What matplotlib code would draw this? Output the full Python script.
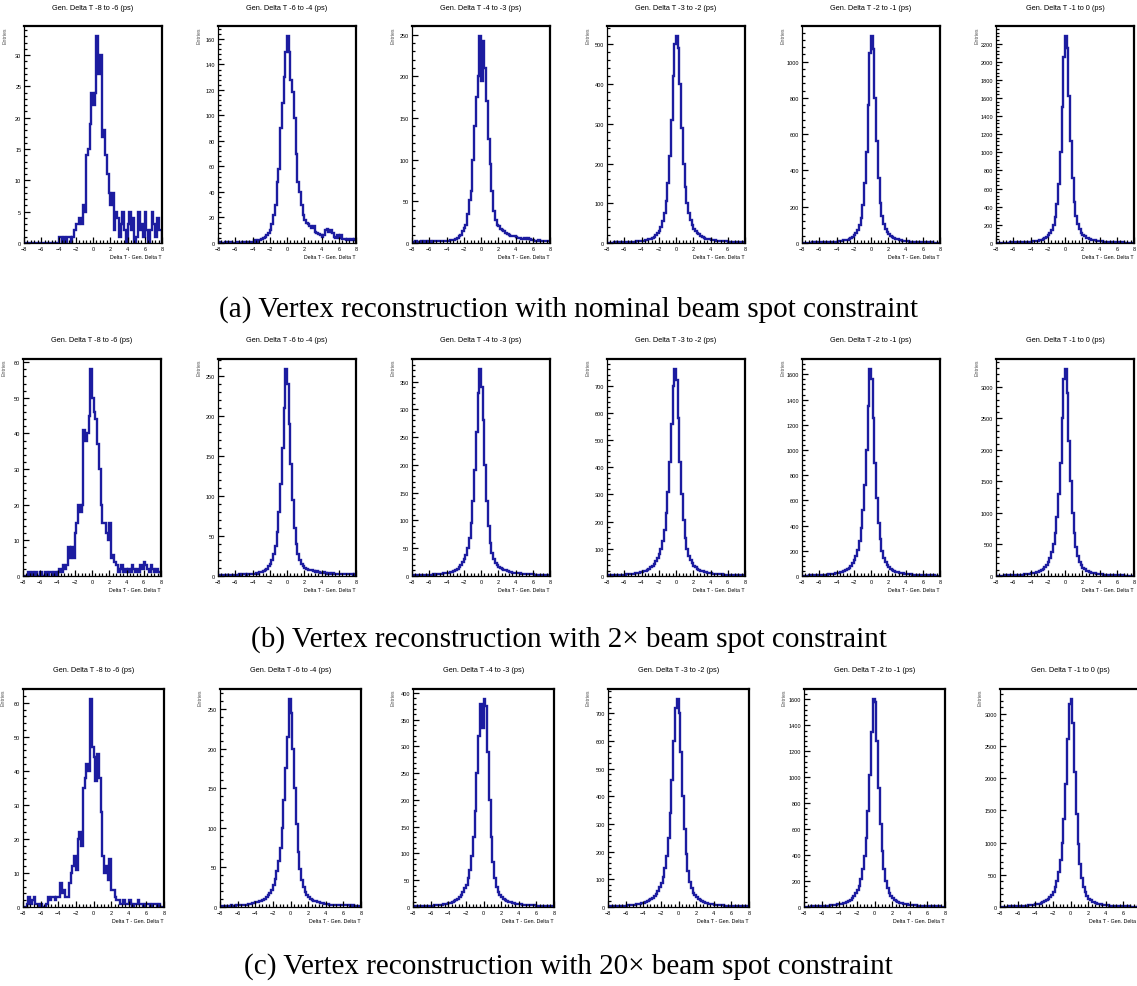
import numpy as np
import matplotlib
matplotlib.use("Agg")
import matplotlib.pyplot as plt
from matplotlib.ticker import MultipleLocator, AutoMinorLocator

# Histograms: 80 bins of 0.2 ps from -8 to 8
titles = ["Gen. Delta T -8 to -6 (ps)", "Gen. Delta T -6 to -4 (ps)", "Gen. Delta T -4 to -3 (ps)",
          "Gen. Delta T -3 to -2 (ps)", "Gen. Delta T -2 to -1 (ps)", "Gen. Delta T -1 to 0 (ps)"]
captions = ["(a) Vertex reconstruction with nominal beam spot constraint",
            "(b) Vertex reconstruction with 2\u00d7 beam spot constraint",
            "(c) Vertex reconstruction with 20\u00d7 beam spot constraint"]
x_label = "Delta T - Gen. Delta T"
y_label = "Entries"
x_min, x_max, n_bins = -8, 8, 80
y_steps = [[5, 20, 50, 100, 200, 200],
           [10, 50, 50, 100, 200, 500],
           [10, 50, 50, 100, 200, 500]]

# (a) nominal beam spot
a1 = [0,0,0,0,0,0,0,0,0,0, 0,0,0,0,0,0,0,0,0,0,
      1,1,0,1,0,1,1,0,1,2, 3,3,4,3,6,5,14,15,19,24,
      22,24,33,27,30,17,18,14,11,8, 6,8,2,5,4,1,3,5,2,0,
      3,5,2,4,0,1,5,2,3,1, 5,2,0,2,5,3,1,4,2,2]
a2 = [0,1,0,0,1,0,0,1,0,0, 0,1,0,0,1,0,1,0,1,1,
      1,2,1,2,2,3,4,5,6,8, 10,15,22,30,48,58,90,110,130,150,
      162,150,128,118,98,70,48,40,30,22, 18,16,15,13,12,13,9,8,7,6,
      5,6,10,11,9,10,8,5,4,6, 4,6,3,3,2,3,2,3,2,3]
a3 = [1,1,2,1,1,2,1,2,1,2, 2,1,2,3,2,2,3,2,3,3,
      3,3,4,4,4,5,6,8,10,14, 18,22,35,52,62,100,140,175,200,248,
      195,242,210,170,125,95,62,38,28,22, 20,17,16,14,12,11,10,9,8,8,
      7,6,6,5,5,6,5,6,5,4, 4,3,3,4,3,3,2,3,2,2]
a4 = [1,1,1,1,2,1,2,1,2,2, 2,2,3,2,3,3,3,4,4,5,
      5,6,7,8,9,10,13,16,20,25, 30,40,55,75,105,150,220,310,420,500,
      520,490,400,290,200,140,100,75,58,45, 35,30,25,22,18,15,12,11,10,9,
      8,8,7,6,6,5,5,4,4,4, 3,3,3,3,2,3,2,2,2,2]
a5 = [1,2,1,2,2,2,3,2,3,3, 3,4,3,4,4,5,5,6,6,7,
      8,9,10,12,14,16,19,23,28,35, 44,55,72,100,140,210,330,500,760,1050,
      1140,1070,800,560,360,220,150,105,78,60, 48,40,33,28,24,20,17,15,13,12,
      10,9,8,8,7,6,6,5,5,4, 4,4,3,3,3,3,2,2,2,2]
a6 = [2,3,3,3,4,4,5,5,6,6, 7,7,8,8,9,10,11,12,13,14,
      16,18,20,23,27,31,37,45,55,70, 88,110,145,200,290,430,650,1000,1500,2050,
      2280,2150,1620,1120,720,450,300,210,150,115, 90,72,60,50,43,37,32,28,24,21,
      19,17,15,14,12,11,10,9,8,8, 7,7,6,6,5,5,5,4,4,4]

# (b) 2x beam spot
b1 = [0,0,0,1,0,1,0,1,0,0, 1,0,0,1,0,1,1,0,1,0,
      1,2,1,3,2,3,8,5,8,5, 12,15,20,18,20,41,38,40,45,58,
      50,46,44,37,30,20,15,15,12,10, 15,5,6,4,3,1,2,3,1,2,
      1,2,1,3,2,1,2,1,3,2, 4,3,2,1,3,2,1,2,1,1]
b2 = [0,1,0,1,1,0,1,1,0,1, 1,1,2,1,2,2,1,2,3,2,
      3,3,4,3,5,5,6,8,9,12, 15,20,28,38,55,80,115,160,210,258,
      240,190,140,95,60,40,28,20,15,12, 10,9,8,7,7,6,5,6,5,4,
      4,5,4,3,4,3,4,3,3,2, 3,2,3,2,2,3,2,2,1,2]
b3 = [1,1,1,1,1,2,1,2,2,2, 2,2,3,2,3,3,4,4,5,5,
      6,6,7,8,9,11,13,16,20,25, 30,38,50,68,95,135,190,260,330,372,
      340,280,200,135,90,60,42,30,24,19, 16,14,12,11,10,9,8,7,6,6,
      5,5,5,4,4,4,3,3,3,3, 3,2,2,2,2,2,2,1,2,1]
b4 = [1,2,2,2,3,3,3,4,4,5, 5,6,6,7,8,9,10,11,12,14,
      16,18,20,23,27,32,38,45,55,68, 82,100,130,170,230,310,420,560,700,760,
      720,580,420,300,205,140,100,75,58,46, 38,32,27,23,20,18,16,14,12,11,
      10,9,8,8,7,6,6,5,5,5, 4,4,4,3,3,3,3,2,2,2]
b5 = [2,2,3,3,4,4,5,5,6,7, 7,8,9,10,11,12,14,16,18,20,
      22,25,28,32,38,45,54,65,80,100, 125,160,210,280,380,520,720,1000,1350,1640,
      1560,1250,900,620,420,290,200,145,110,85, 68,56,47,40,34,30,26,23,20,18,
      16,14,13,12,11,10,9,8,7,7, 6,6,5,5,4,4,4,3,3,3]
b6 = [4,5,5,6,7,8,9,10,11,12, 13,15,16,18,20,22,25,28,32,36,
      40,45,52,60,70,82,98,118,145,180, 225,290,380,510,690,940,1300,1800,2500,3120,
      3280,2900,2150,1500,1000,680,460,320,230,170, 130,105,85,72,62,54,47,41,36,32,
      28,25,22,20,18,16,14,13,12,11, 10,9,8,8,7,7,6,6,5,5]

# (c) 20x beam spot
c1 = [0,0,1,3,1,2,3,1,1,0, 1,0,0,1,3,2,3,3,2,3,
      3,7,4,5,3,3,7,10,12,15, 11,20,22,18,35,38,42,40,61,47,
      44,37,45,38,28,15,10,12,8,14, 5,5,3,2,2,1,1,2,1,1,
      2,1,0,1,1,2,1,1,0,1, 1,1,0,1,1,1,0,1,0,0]
c2 = [0,1,1,0,1,1,2,1,1,2, 2,2,3,2,3,3,4,4,5,5,
      6,6,7,8,9,10,12,15,18,22, 28,35,45,58,75,100,135,175,215,262,
      245,200,150,105,70,48,34,25,19,15, 12,10,9,8,7,6,6,5,5,4,
      4,4,3,3,3,3,3,2,2,2, 2,2,2,2,1,2,1,1,1,1]
c3 = [1,1,1,1,1,2,1,2,2,2, 2,2,3,3,3,4,4,5,5,6,
      7,8,9,11,13,15,18,22,28,35, 42,55,70,95,130,180,250,320,380,335,
      388,375,290,200,130,85,55,38,28,22, 18,15,13,11,10,9,8,7,6,6,
      5,5,4,4,4,3,3,3,3,3, 2,2,2,2,2,2,1,2,1,1]
c4 = [1,2,2,2,3,3,3,4,4,5, 5,6,6,7,8,9,10,11,12,14,
      16,18,21,24,28,33,40,48,58,72, 88,110,140,185,250,340,460,600,720,750,
      700,560,400,280,190,130,92,68,52,42, 35,29,25,21,18,16,14,12,11,10,
      9,8,7,7,6,6,5,5,4,4, 4,3,3,3,3,2,2,2,2,2]
c5 = [2,2,3,3,4,4,5,5,6,7, 7,8,9,10,11,12,14,16,18,20,
      23,26,30,34,40,47,56,68,84,105, 130,165,215,290,390,530,740,1020,1350,1600,
      1580,1280,920,640,430,290,200,145,110,85, 68,56,47,40,34,30,26,23,20,18,
      16,14,13,12,11,10,9,8,7,7, 6,6,5,5,4,4,4,3,3,3]
c6 = [4,5,5,6,7,8,9,10,11,12, 13,15,16,18,20,22,25,28,32,36,
      40,46,53,62,73,86,103,125,155,190, 240,310,400,540,730,990,1370,1900,2600,3150,
      3220,2850,2100,1450,980,660,450,315,225,168, 128,102,84,71,61,53,46,40,35,31,
      27,24,22,20,18,16,14,13,12,11, 10,9,8,8,7,7,6,6,5,5]

rows = [[a1, a2, a3, a4, a5, a6], [b1, b2, b3, b4, b5, b6], [c1, c2, c3, c4, c5, c6]]

W, H = 1137, 987
fig = plt.figure(figsize=(W / 100, H / 100), dpi=100)

line_col = "#1c1ca0"
sans = "Liberation Sans"

# pixel layout of each row: top, height, lefts, width, caption y
row_top = [27, 360, 690]
row_h = [217, 217, 218]
row_lefts = [[24, 218, 412, 607, 802, 996],
             [23, 218, 412, 607, 802, 996],
             [23, 220, 413, 608, 804, 1000]]
row_w = [138, 138, 141]
cap_y = [310, 640, 967]

edges = np.linspace(x_min, x_max, n_bins + 1)

for r, hists in enumerate(rows):
    for c, vals in enumerate(hists):
        left, top, w, h = row_lefts[r][c], row_top[r], row_w[r], row_h[r]
        ax = fig.add_axes([left / W, 1 - (top + h) / H, w / W, h / H])
        ax.stairs(vals, edges, color=line_col, lw=1.7, baseline=0)
        ax.set_xlim(x_min, x_max)
        ax.set_ylim(0, max(vals) * 1.05)
        ax.xaxis.set_major_locator(MultipleLocator(2))
        ax.xaxis.set_minor_locator(MultipleLocator(0.4))
        ax.yaxis.set_major_locator(MultipleLocator(y_steps[r][c]))
        ax.yaxis.set_minor_locator(AutoMinorLocator(5))
        ax.tick_params(which="both", direction="in", labelsize=4, pad=2,
                       top=False, right=False, width=0.9)
        ax.tick_params(which="major", length=4.5)
        ax.tick_params(which="minor", length=2.2)
        for lab in ax.get_xticklabels() + ax.get_yticklabels():
            lab.set_fontfamily(sans)
        for side in ["left", "bottom"]:
            ax.spines[side].set_linewidth(0.9)
        for side in ["top", "right"]:
            ax.spines[side].set_linewidth(1.6)
        ax.text(0.5, 1 + 19 / h, titles[c], transform=ax.transAxes, ha="center",
                va="center", fontsize=5.3, family=sans)
        ax.text(-0.12, 1.0, y_label, transform=ax.transAxes, ha="right", va="top",
                rotation=90, fontsize=3.8, family=sans, color="#555555")
        ax.text(1.0, -0.05, x_label, transform=ax.transAxes, ha="right", va="top",
                fontsize=3.8, family=sans)
    fig.text(0.5, 1 - cap_y[r] / H, captions[r], ha="center", va="center",
             fontsize=21, family="Liberation Serif")

fig.savefig("out.png", dpi=100)
